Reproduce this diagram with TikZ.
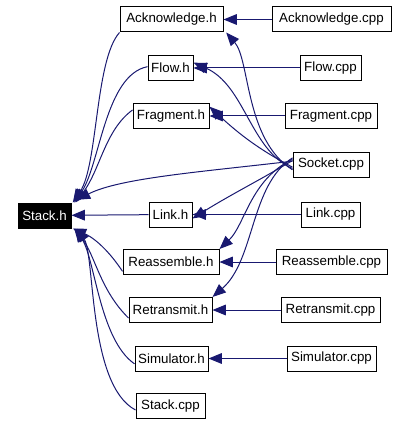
\documentclass[tikz,border=0pt]{standalone}
\usepackage{fontspec}
\setmainfont{Liberation Sans}
\usetikzlibrary{arrows.meta}

\definecolor{edgeblue}{RGB}{25,25,112}
\tikzset{every picture/.style={line width=0.75pt}}
\tikzset{
  file/.style={draw, rectangle, line width=0.75pt, minimum height=18.75pt, inner sep=0pt, font=\fontsize{10}{12}\selectfont},
  dep/.style={edgeblue, line width=0.75pt, -{Triangle[length=10pt,width=8pt]}}
}

\begin{document}
\begin{tikzpicture}[x=0.75pt,y=0.75pt,yscale=-1,xscale=1]
    \useasboundingbox (0,0) rectangle (408,424);

    % Header nodes
    \node [file, fill=black, text=white, minimum width=39.75pt] (stack) at (44.5,215.5) {Stack.h};
    \node [file, minimum width=77.25pt] (ack) at (171.5,19.5) {Acknowledge.h};
    \node [file, minimum width=33.75pt] (flow) at (170.5,68) {Flow.h};
    \node [file, minimum width=57pt] (frag) at (171,116) {Fragment.h};
    \node [file, minimum width=32.25pt] (link) at (170.5,214.5) {Link.h};
    \node [file, minimum width=72pt] (reass) at (171,262) {Reassemble.h};
    \node [file, minimum width=62.25pt] (retrans) at (170.5,310) {Retransmit.h};
    \node [file, minimum width=54.75pt] (sim) at (171.5,358.5) {Simulator.h};
    \node [file, minimum width=51.75pt] (stackcpp) at (170.5,406) {Stack.cpp};

    % Source nodes
    \node [file, minimum width=89.25pt] (ackcpp) at (331.5,19.5) {Acknowledge.cpp};
    \node [file, minimum width=45.75pt] (flowcpp) at (330.5,68) {Flow.cpp};
    \node [file, minimum width=69pt] (fragcpp) at (331,116) {Fragment.cpp};
    \node [file, minimum width=57pt] (socket) at (331,164.5) {Socket.cpp};
    \node [file, minimum width=44.25pt] (linkcpp) at (330.5,214.5) {Link.cpp};
    \node [file, minimum width=83.25pt] (reasscpp) at (331.5,262) {Reassemble.cpp};
    \node [file, minimum width=74.25pt] (retranscpp) at (330.5,310) {Retransmit.cpp};
    \node [file, minimum width=66.75pt] (simcpp) at (331.5,358.5) {Simulator.cpp};

    % Straight edges
    \draw [dep] (ackcpp) -- (ack);
    \draw [dep] (flowcpp) -- (flow);
    \draw [dep] (fragcpp) -- (frag);
    \draw [dep] (linkcpp) -- (link);
    \draw [dep] (reasscpp) -- (reass);
    \draw [dep] (retranscpp) -- (retrans);
    \draw [dep] (simcpp) -- (sim);
    \draw [dep] (link) -- (stack);

    % Curve Lines into Stack.h
    \draw [dep] (ack.south west) .. controls (95,60) and (98,165) .. ([xshift=1pt]stack.north east);
    \draw [dep] ([yshift=-1pt]flow.west) .. controls (105,75) and (100,165) .. ([xshift=2pt]stack.north east);
    \draw [dep] ([yshift=-4.5pt]frag.west) .. controls (105,130) and (100,170) .. ([xshift=3pt]stack.north east);
    \draw [dep] ([yshift=-2.5pt]socket.west) .. controls (200,172) and (120,178) .. ([xshift=4pt,yshift=-2pt]stack.north east);
    \draw [dep] ([yshift=7pt]reass.west) .. controls (105,245) and (90,236) .. ([xshift=1pt]stack.south east);
    \draw [dep] ([yshift=6pt]retrans.west) .. controls (100,290) and (95,255) .. ([xshift=2pt]stack.south east);
    \draw [dep] ([yshift=4pt]sim.west) .. controls (100,340) and (95,260) .. ([xshift=3pt]stack.south east);
    \draw [dep] ([yshift=3pt]stackcpp.west) .. controls (88,385) and (95,255) .. ([xshift=4pt]stack.south east);

    % Curve Lines from Socket.cpp
    \draw [dep] ([yshift=4pt]socket.west) .. controls (245,140) and (250,60) .. ([xshift=2pt]ack.south east);
    \draw [dep] ([yshift=3pt]socket.west) .. controls (250,150) and (245,85) .. ([yshift=-4pt]flow.east);
    \draw [dep] ([yshift=2pt]socket.west) .. controls (260,150) and (240,135) .. ([yshift=-7pt]frag.east);
    \draw [dep] ([yshift=-3pt]socket.west) .. controls (260,180) and (230,195) .. ([yshift=3pt]link.east);
    \draw [dep] ([yshift=-4pt]socket.west) .. controls (250,180) and (245,225) .. (reass.north east);
    \draw [dep] ([yshift=-5pt]socket.west) .. controls (250,185) and (255,260) .. (retrans.north east);

\end{tikzpicture}
\end{document}
